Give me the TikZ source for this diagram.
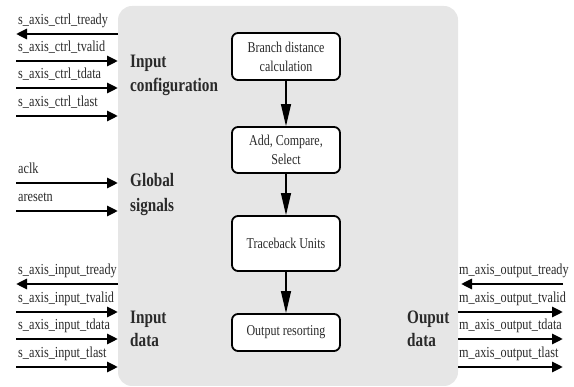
\documentclass[tikz,border=0pt]{standalone}
\usepackage{fontspec}
\setmainfont{Liberation Serif}[FakeStretch=0.8]
\usetikzlibrary{arrows.meta}
\definecolor{panel}{HTML}{E6E6E6}
\definecolor{txt}{HTML}{2A2A2A}
\tikzset{
  sig/.style={line width=2.8pt, -{Triangle[length=11pt,width=10pt]}},
  siglabel/.style={anchor=base west, inner sep=0pt, text=txt, font=\fontsize{15.3}{17}\selectfont},
  grp/.style={anchor=base west, inner sep=0pt, text=txt, font=\fontsize{19}{21}\selectfont\bfseries},
  unit/.style={draw, line width=1.8pt, rounded corners=6pt, fill=white, minimum width=108pt, text=txt, align=center, font=\fontsize{15}{19}\selectfont, inner sep=0pt},
  flow/.style={line width=1.3pt, -{Triangle[length=22pt,width=10pt]}}
}
\begin{document}
\begin{tikzpicture}[x=1pt,y=-1pt]
\useasboundingbox (0,0) rectangle (574,387);
\fill[panel, rounded corners=14pt] (118,6) rectangle (458,386);
% central units
\node[unit, minimum height=47pt] (b1) at (286,56.5) {Branch distance\\calculation};
\node[unit, minimum height=46pt] (b2) at (286,150) {Add, Compare,\\Select};
\node[unit, minimum height=55pt] (b3) at (286,243.5) {Traceback Units};
\node[unit, minimum height=37pt] (b4) at (286,332.5) {Output resorting};
\draw[flow] (b1) -- (b2);
\draw[flow] (b2) -- (b3);
\draw[flow] (b3) -- (b4);
% group titles
\node[grp] (g1a) at (130,68) {Input};
\node[grp] (g1b) at (130,92) {configuration};
\node[grp] (g2a) at (130,187) {Global};
\node[grp] (g2b) at (130,212) {signals};
\node[grp] (g3a) at (130,324) {Input};
\node[grp] (g3b) at (130,347) {data};
\node[grp] (g4a) at (407,324) {Ouput};
\node[grp] (g4b) at (407,347) {data};
% left coordinates
\foreach \n/\y in {a/34,b/61,c/88,d/116,e/183,f/211,g/284,h/312,i/339,j/367}{
  \coordinate (L\n) at (16,\y);
  \coordinate (P\n) at (118,\y);
}
\foreach \n/\y in {g/284,h/312,i/339,j/367}{
  \coordinate (Q\n) at (458,\y);
  \coordinate (R\n) at (563,\y);
}
\draw[sig] (Pa) -- (La);
\draw[sig] (Lb) -- (Pb);
\draw[sig] (Lc) -- (Pc);
\draw[sig] (Ld) -- (Pd);
\draw[sig] (Le) -- (Pe);
\draw[sig] (Lf) -- (Pf);
\draw[sig] (Pg) -- (Lg);
\draw[sig] (Lh) -- (Ph);
\draw[sig] (Li) -- (Pi);
\draw[sig] (Lj) -- (Pj);
\draw[sig] (Rg) -- ([xshift=3pt]Qg);
\draw[sig] (Qh) -- (Rh);
\draw[sig] (Qi) -- (Ri);
\draw[sig] (Qj) -- (Rj);
% labels
\node[siglabel] (la) at (18,25) {s\_axis\_ctrl\_tready};
\node[siglabel] (lb) at (18,52) {s\_axis\_ctrl\_tvalid};
\node[siglabel] (lc) at (18,79) {s\_axis\_ctrl\_tdata};
\node[siglabel] (ld) at (18,107) {s\_axis\_ctrl\_tlast};
\node[siglabel] (le) at (18,174) {aclk};
\node[siglabel] (lf) at (18,202) {aresetn};
\node[siglabel] (lg) at (18,275) {s\_axis\_input\_tready};
\node[siglabel] (lh) at (18,303) {s\_axis\_input\_tvalid};
\node[siglabel] (li) at (18,330) {s\_axis\_input\_tdata};
\node[siglabel] (lj) at (18,358) {s\_axis\_input\_tlast};
\node[siglabel] (rg) at (459,275) {m\_axis\_output\_tready};
\node[siglabel] (rh) at (459,303) {m\_axis\_output\_tvalid};
\node[siglabel] (ri) at (459,330) {m\_axis\_output\_tdata};
\node[siglabel] (rj) at (459,358) {m\_axis\_output\_tlast};
\end{tikzpicture}
\end{document}
